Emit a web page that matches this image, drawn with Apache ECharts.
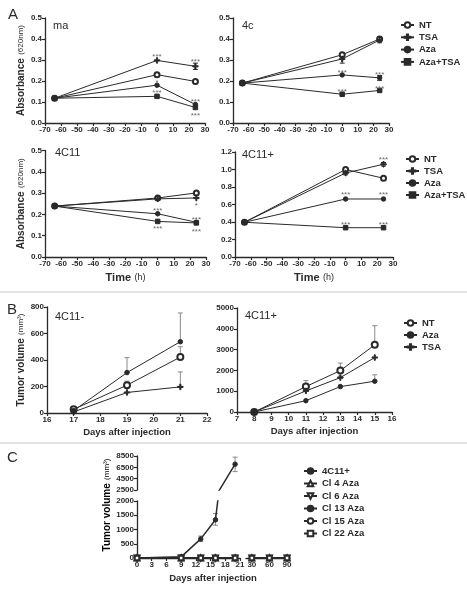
<!DOCTYPE html>
<html><head><meta charset="utf-8">
<script src="https://cdn.jsdelivr.net/npm/echarts@6/dist/echarts.min.js"></script>
<style>html,body{margin:0;padding:0;background:#fff}#c{width:467px;height:591px}</style>
</head><body><div id="c"></div>
<script>
// ================= DATA =================
// Panel A : absorbance (620nm) vs time (h)
const hoursA = [-64, 0, 24];
const namesA = ['NT', 'TSA', 'Aza', 'Aza+TSA'];
const ma_NT      = [0.118, 0.230, 0.198];
const ma_TSA     = [0.118, 0.298, 0.270];
const ma_Aza     = [0.118, 0.180, 0.088];
const ma_AzaTSA  = [0.118, 0.127, 0.074];
const c4_NT      = [0.190, 0.325, 0.400];
const c4_TSA     = [0.190, 0.305, 0.395];
const c4_Aza     = [0.190, 0.229, 0.215];
const c4_AzaTSA  = [0.190, 0.137, 0.155];
const c11_NT     = [0.239, 0.277, 0.301];
const c11_TSA    = [0.239, 0.273, 0.277];
const c11_Aza    = [0.239, 0.203, 0.163];
const c11_AzaTSA = [0.239, 0.167, 0.160];
const c11p_NT     = [0.397, 1.000, 0.900];
const c11p_TSA    = [0.397, 0.960, 1.060];
const c11p_Aza    = [0.397, 0.663, 0.663];
const c11p_AzaTSA = [0.397, 0.335, 0.335];
// error bars [x, low, high]
const ma_err   = [[24, 0.255, 0.285], [0, 0.222, 0.236]];
const c4_err   = [[0, 0.285, 0.318], [24, 0.382, 0.410], [0, 0.318, 0.332], [24, 0.203, 0.226]];
const c11_err  = [[24, 0.294, 0.306]];
const c11p_err = [[24, 1.040, 1.080], [0, 0.940, 0.980], [24, 0.890, 0.910]];
// significance marks [x, y, text]
const ma_stars   = [[0, 0.325, '***'], [24, 0.300, '***'], [0, 0.203, '*'], [0, 0.152, '***'], [24, 0.112, '***'], [24, 0.046, '***']];
const c4_stars   = [[0, 0.248, '***'], [24, 0.241, '***'], [0, 0.157, '***'], [24, 0.173, '***']];
const c11_stars  = [[0, 0.225, '***'], [24, 0.252, '*'], [24, 0.182, '***'], [0, 0.142, '***'], [24, 0.130, '***']];
const c11p_stars = [[24, 1.130, '***'], [0, 0.730, '***'], [24, 0.730, '***'], [0, 0.390, '***'], [24, 0.390, '***']];

// Panel B : tumor volume (mm3)
const namesB = ['NT', 'Aza', 'TSA'];
const daysBneg = [17, 19, 21];
const bneg_NT  = [28, 210, 422];
const bneg_Aza = [18, 305, 538];
const bneg_TSA = [8, 155, 197];
const bneg_err = [[19, 305, 418], [21, 538, 755], [21, 422, 500], [21, 197, 310], [19, 210, 240]];
const daysBpos = [8, 11, 13, 15];
const bpos_NT  = [0, 1220, 1990, 3230];
const bpos_Aza = [0, 545, 1220, 1480];
const bpos_TSA = [0, 1012, 1653, 2620];
const bpos_err = [[11, 1220, 1510], [13, 1990, 2350], [15, 3230, 4150], [15, 1480, 1790], [13, 1653, 1720]];

// Panel C : tumor volume with broken axes
const namesC = ['4C11+', 'Cl 4 Aza', 'Cl 6 Aza', 'Cl 13 Aza', 'Cl 15 Aza', 'Cl 22 Aza'];
const daysC4 = [0, 9, 13, 16, 20];
const volC4  = [0, 40, 670, 1340, 7060];
const errC4  = [[13, 580, 770], [16, 1150, 1560], [20, 5750, 8300]];
const daysCl = [0, 9, 13, 16, 20, 30, 60, 90];
const cl4  = [0, 0, 0, 0, 0, 0, 0, 0];
const cl6  = [0, 0, 0, 0, 0, 0, 0, 0];
const cl13 = [0, 0, 0, 0, 0, 0, 0, 0];
const cl15 = [0, 0, 0, 0, 0, 0, 0, 0];
const cl22 = [0, 0, 0, 0, 0, 0, 0, 0];
const cTicksHighX = [30, 60, 90];
const cTicksUpY   = [2500, 4500, 6500, 8500];

// ================= STYLE / LAYOUT =================
const FONT = '"Liberation Sans", Arial, sans-serif';
const INK = '#2a2a2a';
const GREY = '#8a8a8a';
const PLUS = 'path://M4,0H6V4H10V6H6V10H4V6H0V4H4Z';
const SYM = {
  'NT': ['emptyCircle', 5], 'TSA': [PLUS, 5.5], 'Aza': ['circle', 4.5], 'Aza+TSA': ['rect', 4.5],
  '4C11+': ['circle', 4.5], 'Cl 4 Aza': ['emptyTriangle', 5], 'Cl 6 Aza': ['emptyTriangle', 5],
  'Cl 13 Aza': ['circle', 4.5], 'Cl 15 Aza': ['emptyCircle', 4.5], 'Cl 22 Aza': ['emptyRect', 4.5]
};
const grids = [
  {left: 45,  top: 18,    width: 160, height: 105},   // 0 ma
  {left: 233, top: 18,    width: 156, height: 105},   // 1 4c
  {left: 45,  top: 150.5, width: 161, height: 106.5}, // 2 4C11
  {left: 235, top: 152,   width: 158, height: 105},   // 3 4C11+
  {left: 47,  top: 307,   width: 160, height: 106},   // 4 B 4C11-
  {left: 237, top: 308,   width: 155, height: 104},   // 5 B 4C11+
  {left: 137, top: 501,   width: 103, height: 57},    // 6 C low-left
  {left: 246, top: 501,   width: 44,  height: 57},    // 7 C low-right
  {left: 137, top: 456,   width: 103, height: 34}     // 8 C upper
];

const plain = v => String(v);
function lbl(extra) {
  return Object.assign({fontSize: 8, fontWeight: 'bold', color: INK, margin: 3, fontFamily: FONT, formatter: plain}, extra || {});
}
function ax(extra) {
  const base = {
    type: 'value',
    axisLine: {show: true, onZero: false, lineStyle: {color: INK, width: 1.3}},
    axisTick: {show: true, length: 3, lineStyle: {color: INK, width: 1.2}},
    axisLabel: lbl(),
    splitLine: {show: false}
  };
  return Object.assign(base, extra);
}
const richAxis = {
  b: {fontSize: 11, fontWeight: 'bold', fontFamily: FONT, color: INK},
  n: {fontSize: 9, fontFamily: FONT, color: INK}
};
const richY = {
  b: {fontSize: 10, fontWeight: 'bold', fontFamily: FONT, color: INK},
  n: {fontSize: 8, fontFamily: FONT, color: INK}
};
const fmt1 = v => v.toFixed(1);

const xAxes = [], yAxes = [], series = [];
// Panel A axes
for (let g = 0; g < 4; g++) {
  const bottom = g >= 2;
  xAxes.push(ax({gridIndex: g, min: -70, max: 30, interval: 10,
    name: bottom ? '{b|Time} {n|(h)}' : '', nameLocation: 'middle', nameGap: 15,
    nameTextStyle: {rich: richAxis}}));
  const isBig = g === 3;
  yAxes.push(ax({gridIndex: g, min: 0, max: isBig ? 1.2 : 0.5, interval: isBig ? 0.2 : 0.1,
    axisLabel: lbl({formatter: fmt1}),
    name: (g === 0 || g === 2) ? '{b|Absorbance} {n|(620nm)}' : '', nameLocation: 'middle', nameRotate: 90, nameGap: 18,
    nameTextStyle: {rich: richY}}));
}
// Panel B axes
const daysName = {fontSize: 9.5, fontWeight: 'bold', fontFamily: FONT, color: INK};
xAxes.push(ax({gridIndex: 4, min: 16, max: 22, interval: 1, name: 'Days after injection', nameLocation: 'middle', nameGap: 14,
  nameTextStyle: daysName}));
yAxes.push(ax({gridIndex: 4, min: 0, max: 800, interval: 200, name: '{b|Tumor volume} {n|(mm³)}', nameLocation: 'middle',
  nameRotate: 90, nameGap: 20, nameTextStyle: {rich: richY}}));
xAxes.push(ax({gridIndex: 5, min: 7, max: 16, interval: 1, name: 'Days after injection', nameLocation: 'middle', nameGap: 14,
  nameTextStyle: daysName}));
yAxes.push(ax({gridIndex: 5, min: 0, max: 5000, interval: 1000}));
// Panel C axes
xAxes.push(ax({gridIndex: 6, min: 0, max: 21, interval: 3}));
yAxes.push(ax({gridIndex: 6, min: 0, max: 2000, interval: 500}));
xAxes.push(ax({gridIndex: 7, min: 20, max: 95,
  axisTick: {show: true, length: 3, lineStyle: {color: INK, width: 1.2}, customValues: cTicksHighX},
  axisLabel: lbl({customValues: cTicksHighX})}));
yAxes.push(ax({gridIndex: 7, min: 0, max: 2000, show: false}));
xAxes.push(ax({gridIndex: 8, min: 0, max: 21, show: false}));
yAxes.push(ax({gridIndex: 8, min: 2500, max: 8500,
  axisTick: {show: true, length: 3, lineStyle: {color: INK, width: 1.2}, customValues: cTicksUpY},
  axisLabel: lbl({customValues: cTicksUpY})}));

function lineS(name, g, xs, ys, extra) {
  const s = SYM[name];
  return Object.assign({
    type: 'line', name, xAxisIndex: g, yAxisIndex: g, data: xs.map((x, i) => [x, ys[i]]),
    symbol: s[0], symbolSize: s[1], showSymbol: true, clip: true,
    lineStyle: {color: INK, width: 1}, itemStyle: {color: INK, borderColor: INK, borderWidth: 1},
    z: 3, animation: false
  }, extra || {});
}
function errS(g, arr, color) {
  return {
    type: 'custom', xAxisIndex: g, yAxisIndex: g, data: arr, clip: true, z: 2, silent: true, animation: false,
    renderItem(params, api) {
      const x = api.value(0), lo = api.value(1), hi = api.value(2);
      const pl = api.coord([x, lo]), ph = api.coord([x, hi]);
      const st = {stroke: color, lineWidth: 1};
      return {type: 'group', children: [
        {type: 'line', shape: {x1: pl[0], y1: pl[1], x2: ph[0], y2: ph[1]}, style: st},
        {type: 'line', shape: {x1: ph[0] - 2.5, y1: ph[1], x2: ph[0] + 2.5, y2: ph[1]}, style: st},
        {type: 'line', shape: {x1: pl[0] - 2.5, y1: pl[1], x2: pl[0] + 2.5, y2: pl[1]}, style: st}
      ]};
    }
  };
}
function starS(g, arr) {
  return {
    type: 'custom', xAxisIndex: g, yAxisIndex: g, data: arr.map(a => [a[0], a[1]]), z: 4, silent: true, animation: false,
    renderItem(params, api) {
      const p = api.coord([api.value(0), api.value(1)]);
      return {type: 'text', x: p[0], y: p[1] + 2,
        style: {text: arr[params.dataIndex][2], fontSize: 8, fontFamily: FONT, fill: '#6a6a6a', align: 'center', verticalAlign: 'middle'}};
    }
  };
}

// Panel A series
const panelsA = [
  [ma_NT, ma_TSA, ma_Aza, ma_AzaTSA, ma_err, ma_stars],
  [c4_NT, c4_TSA, c4_Aza, c4_AzaTSA, c4_err, c4_stars],
  [c11_NT, c11_TSA, c11_Aza, c11_AzaTSA, c11_err, c11_stars],
  [c11p_NT, c11p_TSA, c11p_Aza, c11p_AzaTSA, c11p_err, c11p_stars]
];
panelsA.forEach((p, g) => {
  series.push(errS(g, p[4], INK));
  namesA.forEach((n, k) => series.push(lineS(n, g, hoursA, p[k])));
  series.push(starS(g, p[5]));
});
// Panel B series
series.push(errS(4, bneg_err, GREY));
series.push(lineS('NT', 4, daysBneg, bneg_NT, {symbolSize: 6}));
series.push(lineS('Aza', 4, daysBneg, bneg_Aza));
series.push(lineS('TSA', 4, daysBneg, bneg_TSA));
series.push(errS(5, bpos_err, GREY));
series.push(lineS('NT', 5, daysBpos, bpos_NT, {symbolSize: 6}));
series.push(lineS('Aza', 5, daysBpos, bpos_Aza));
series.push(lineS('TSA', 5, daysBpos, bpos_TSA));
// Panel C series
series.push(lineS('4C11+', 6, daysC4, volC4, {lineStyle: {color: INK, width: 1.5}}));
series.push(lineS('4C11+', 8, daysC4, volC4, {lineStyle: {color: INK, width: 1.5}}));
series.push(errS(6, errC4, GREY));
series.push(errS(8, errC4, GREY));
const clSets = [['Cl 4 Aza', cl4], ['Cl 6 Aza', cl6], ['Cl 13 Aza', cl13], ['Cl 15 Aza', cl15], ['Cl 22 Aza', cl22]];
clSets.forEach(([n, vals]) => {
  const extra = n === 'Cl 6 Aza' ? {symbolRotate: 180} : {};
  const lowX = daysCl.filter(d => d <= 21), highX = daysCl.filter(d => d > 21);
  const lowY = vals.slice(0, lowX.length), highY = vals.slice(lowX.length);
  series.push(lineS(n, 6, lowX, lowY, Object.assign({lineStyle: {color: INK, width: 1.5}}, extra)));
  series.push(lineS(n, 7, highX, highY, Object.assign({lineStyle: {color: INK, width: 1.5}}, extra)));
});

const legendText = {fontSize: 9.5, fontWeight: 'bold', fontFamily: FONT, color: INK};
const legBase = {orient: 'vertical', itemWidth: 13, itemHeight: 7, padding: 0, textStyle: legendText, selectedMode: false};
const legends = [
  Object.assign({data: namesA, left: 400, top: 20, itemGap: 2.3}, legBase),
  Object.assign({data: namesA, left: 405, top: 154, itemGap: 2}, legBase),
  Object.assign({data: namesB, left: 403, top: 318, itemGap: 2}, legBase),
  Object.assign({data: namesC, left: 303, top: 466, itemGap: 2.5}, legBase)
];

const txt = (t, x, y, fs, extra) => ({type: 'text', x, y, style: Object.assign({text: t, fontSize: fs, fontFamily: FONT, fill: INK}, extra || {}), silent: true});
const graphic = [
  txt('A', 8, 7, 15), txt('B', 7, 302, 15), txt('C', 7, 450, 15),
  txt('ma', 53, 20, 11), txt('4c', 242, 20, 11), txt('4C11', 55, 147, 11), txt('4C11+', 242, 149, 11),
  txt('4C11-', 55, 311, 11), txt('4C11+', 245, 310, 11),
  {type: 'line', shape: {x1: 0, y1: 292, x2: 467, y2: 292}, style: {stroke: '#c8c8c8', lineWidth: 1}, silent: true},
  {type: 'line', shape: {x1: 0, y1: 443, x2: 467, y2: 443}, style: {stroke: '#c8c8c8', lineWidth: 1}, silent: true},
  {type: 'text', x: 107, y: 505, rotation: Math.PI / 2,
    style: {text: '{b|Tumor volume} {n|(mm³)}', rich: richY, align: 'center', verticalAlign: 'middle'}, silent: true},
  txt('Days after injection', 213, 573, 9.5, {fontWeight: 'bold', align: 'center'})
];

const chart = echarts.init(document.getElementById('c'), null, {renderer: 'canvas'});
chart.setOption({
  animation: false, backgroundColor: '#fff',
  textStyle: {fontFamily: FONT},
  grid: grids, xAxis: xAxes, yAxis: yAxes, series, legend: legends, graphic
});
</script></body></html>
